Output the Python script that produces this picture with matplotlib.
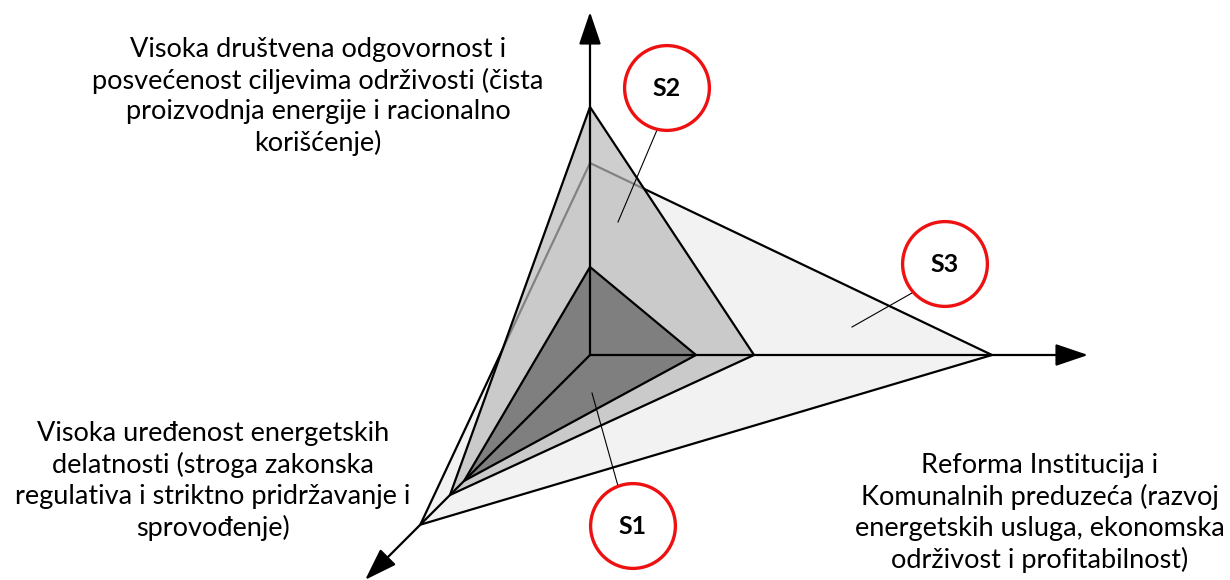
import numpy as np
import matplotlib
matplotlib.use("Agg")
import matplotlib.pyplot as plt
from matplotlib.patches import Polygon, Circle

plt.rcParams['font.family'] = ['Lato', 'DejaVu Sans']

# ---- data ----
series = ['S1', 'S2', 'S3']
val_up = [2.2, 6.2, 4.8]        # Visoka društvena odgovornost ...
val_right = [2.65, 4.1, 10.05]  # Reforma Institucija ...
val_diag = [4.45, 4.95, 6.0]    # Visoka uređenost ...
fills = ['#7f7f7f', (0.73, 0.73, 0.73, 0.70), '#f2f2f2']

label_up = ("Visoka društvena odgovornost i\nposvećenost ciljevima održivosti (čista\n"
            "proizvodnja energije i racionalno\nkorišćenje)")
label_diag = ("Visoka uređenost energetskih\ndelatnosti (stroga zakonska\n"
              "regulativa i striktno pridržavanje i\nsprovođenje)")
label_right = ("Reforma Institucija i\nKomunalnih preduzeća (razvoj\n"
               "energetskih usluga, ekonomska\nodrživost i profitabilnost)")

# callout positions (circle centers) and leader lines
callout_xy = {'S1': (1.075, -4.275), 'S2': (1.925, 6.675), 'S3': (8.875, 2.275)}
leader = {'S1': ((0.7, -3.275), (0.05, -0.95)),
          'S2': ((1.675, 5.625), (0.7, 3.325)),
          'S3': ((8.05, 1.55), (6.55, 0.7))}

# ---- figure ----
fig = plt.figure(figsize=(12.3, 5.8), dpi=100)
ax = fig.add_axes([0, 0, 1, 1])
ax.set_xlim(-14.75, 16.0)
ax.set_ylim(-5.625, 8.875)
ax.set_aspect('equal')
ax.axis('off')

d_up = np.array([0.0, 1.0])
d_right = np.array([1.0, 0.0])
d_diag = np.array([-1.0, -1.0]) / np.sqrt(2)

# draw from the largest (S3) to the smallest (S1)
for i in [2, 1, 0]:
    pts = [val_up[i] * d_up, val_right[i] * d_right, val_diag[i] * d_diag]
    poly = Polygon(pts, closed=True, facecolor=fills[i], edgecolor='black',
                   linewidth=1.6, joinstyle='miter', zorder=2 + (2 - i))
    ax.add_patch(poly)

# axes arrows
for tip in [8.575 * d_up, 12.45 * d_right, 7.95 * d_diag]:
    ax.annotate('', xy=tip, xytext=(0, 0),
                arrowprops=dict(arrowstyle='-|>,head_length=0.56,head_width=0.19',
                                mutation_scale=36, color='black', lw=1.6,
                                shrinkA=0, shrinkB=0),
                zorder=6)

# callouts
for s in series:
    (x0, y0), (x1, y1) = leader[s]
    ax.plot([x0, x1], [y0, y1], color='black', lw=0.8, zorder=7)
    c = Circle(callout_xy[s], 1.06, facecolor='white', edgecolor='#ee1111',
               linewidth=2.4, zorder=8)
    ax.add_patch(c)
    ax.text(*callout_xy[s], s, ha='center', va='center', fontsize=18,
            fontweight='bold', zorder=9)

fs = 19.5
ls = 1.27
ax.text(-6.8, 6.47, label_up, ha='center', va='center', fontsize=fs,
        linespacing=ls)
ax.text(-9.425, -3.15, label_diag, ha='center', va='center', fontsize=fs,
        linespacing=ls)
ax.text(11.25, -3.95, label_right, ha='center', va='center', fontsize=fs,
        linespacing=ls)

fig.savefig('out.png', dpi=100)
